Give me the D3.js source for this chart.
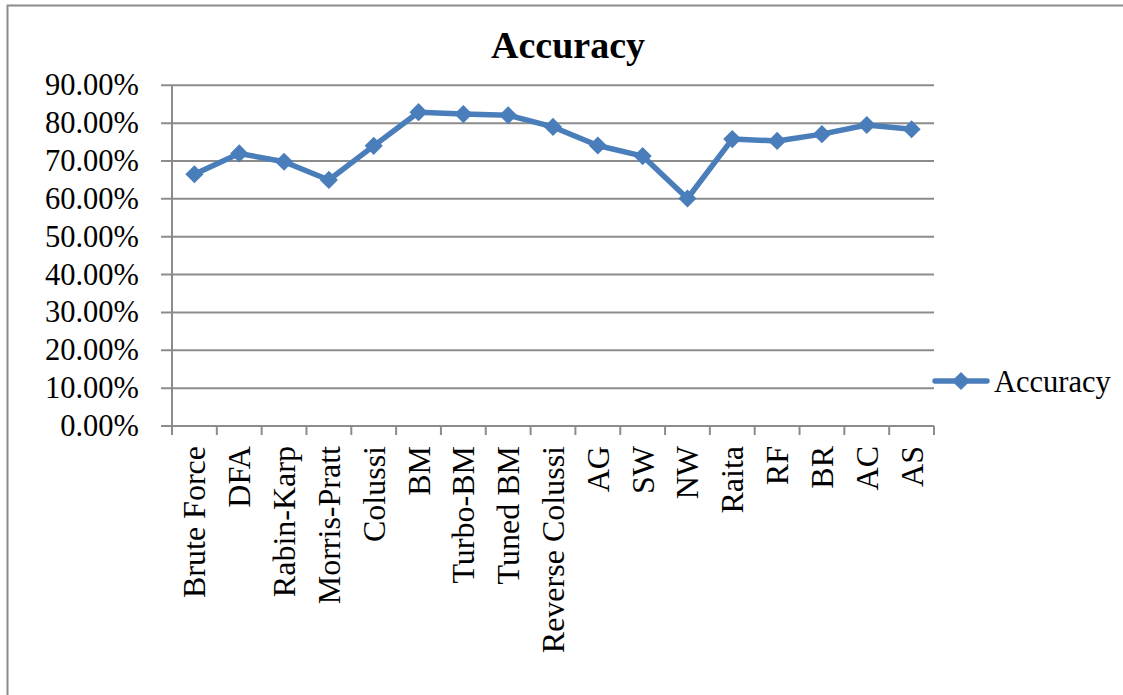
<!DOCTYPE html>
<html>
<head>
<meta charset="utf-8">
<script src="https://cdn.jsdelivr.net/npm/d3@7"></script>
<style>
  body { margin: 0; background: #fff; }
  svg text { font-family: "Liberation Serif", "Times New Roman", serif; fill: #000; }
</style>
</head>
<body>
<svg id="chart" width="1123" height="695"></svg>
<script>
// DATA
const categories = ['Brute Force', 'DFA', 'Rabin-Karp', 'Morris-Pratt', 'Colussi', 'BM', 'Turbo-BM',
  'Tuned BM', 'Reverse Colussi', 'AG', 'SW', 'NW', 'Raita', 'RF', 'BR', 'AC', 'AS'];
const accuracy = [0.665, 0.72, 0.698, 0.65, 0.74, 0.829, 0.824, 0.821, 0.79, 0.741, 0.713, 0.601,
  0.758, 0.753, 0.771, 0.795, 0.784];
const yTicks = [0, 0.1, 0.2, 0.3, 0.4, 0.5, 0.6, 0.7, 0.8, 0.9];
const seriesName = 'Accuracy';

const _color = { line: '#4a7ebb', grid: '#8c8c8c', border: '#8c8c8c' };
const _plot = { left: 172, right: 934, top: 85.3, bottom: 426 };

let svg = d3.select('#chart');

// outer chart border
svg.append('path')
    .attr('d', `M7.5,695 L7.5,5.5 L1123,5.5`)
    .attr('fill', 'none')
    .attr('stroke', _color.border)
    .attr('stroke-width', 2);

let x = d3.scaleBand().domain(categories).range([_plot.left, _plot.right]);
let y = d3.scaleLinear().domain([0, 0.9]).range([_plot.bottom, _plot.top]);

// gridlines
svg.append('g')
    .selectAll('line')
    .data(yTicks)
    .enter()
  .append('line')
    .attr('x1', _plot.left - 11)
    .attr('x2', _plot.right)
    .attr('y1', d => y(d))
    .attr('y2', d => y(d))
    .attr('stroke', _color.grid)
    .attr('stroke-width', 2);

// y axis line
svg.append('line')
    .attr('x1', _plot.left).attr('x2', _plot.left)
    .attr('y1', _plot.top).attr('y2', _plot.bottom)
    .attr('stroke', _color.grid)
    .attr('stroke-width', 2);

// y labels
svg.append('g')
    .selectAll('text')
    .data(yTicks)
    .enter()
  .append('text')
    .attr('x', 139)
    .attr('y', d => y(d) + 10)
    .attr('text-anchor', 'end')
    .attr('font-size', 30.5)
    .text(d => d3.format('.2%')(d));

// x ticks at category boundaries
let bounds = categories.map(c => x(c)).concat([_plot.right]);
svg.append('g')
    .selectAll('line')
    .data(bounds)
    .enter()
  .append('line')
    .attr('x1', d => d).attr('x2', d => d)
    .attr('y1', _plot.bottom).attr('y2', _plot.bottom + 9)
    .attr('stroke', _color.grid)
    .attr('stroke-width', 2);

// x labels, rotated
svg.append('g')
    .selectAll('text')
    .data(categories)
    .enter()
  .append('text')
    .attr('transform', d => `translate(${x(d) + x.bandwidth() / 2 + 11}, 446) rotate(-90) scale(1.05, 1)`)
    .attr('text-anchor', 'end')
    .attr('font-size', 30.5)
    .text(d => d);

// series line
let line = d3.line()
    .x((d, i) => x(categories[i]) + x.bandwidth() / 2)
    .y(d => y(d));

svg.append('path')
    .datum(accuracy)
    .attr('d', line)
    .attr('fill', 'none')
    .attr('stroke', _color.line)
    .attr('stroke-width', 5.5)
    .attr('stroke-linejoin', 'round');

let diamond = d3.symbol().type(d3.symbolDiamond2).size(210);
svg.append('g')
    .selectAll('path')
    .data(accuracy)
    .enter()
  .append('path')
    .attr('d', diamond)
    .attr('transform', (d, i) => `translate(${x(categories[i]) + x.bandwidth() / 2}, ${y(d)})`)
    .attr('fill', _color.line);

// title
svg.append('text')
    .attr('x', 568)
    .attr('y', 58)
    .attr('text-anchor', 'middle')
    .attr('font-size', 38)
    .attr('font-weight', 'bold')
    .text(seriesName);

// legend
let legend = svg.append('g').attr('transform', 'translate(933, 381)');
legend.append('line')
    .attr('x1', 2).attr('x2', 54)
    .attr('y1', 0).attr('y2', 0)
    .attr('stroke', _color.line)
    .attr('stroke-width', 5.5)
    .attr('stroke-linecap', 'round');
legend.append('path')
    .attr('d', diamond)
    .attr('transform', 'translate(28, 0)')
    .attr('fill', _color.line);
legend.append('text')
    .attr('x', 61)
    .attr('y', 11)
    .attr('font-size', 30.5)
    .text(seriesName);
</script>
</body>
</html>
